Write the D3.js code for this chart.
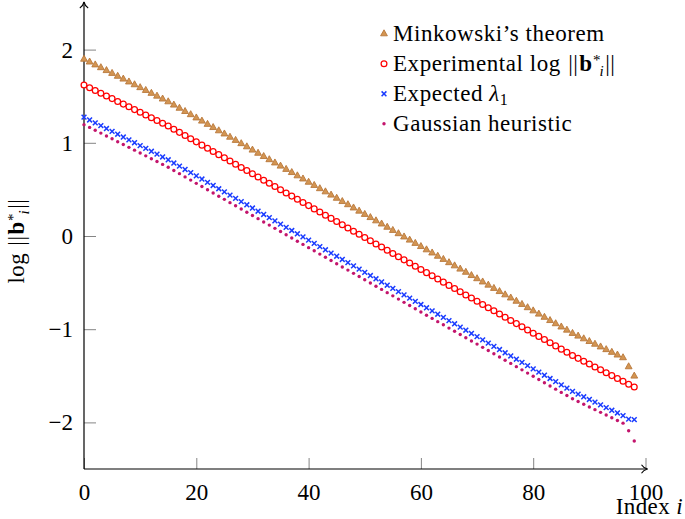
<!DOCTYPE html>
<html><head><meta charset="utf-8">
<script src="https://cdn.jsdelivr.net/npm/d3@7"></script>
<style>body{margin:0;background:#fff}svg{display:block}</style>
</head><body>
<svg id="c" width="685" height="519"></svg>
<script>
// ---- data ----
const indices = d3.range(99);
const minkowski = [1.9,1.87,1.839,1.809,1.778,1.748,1.717,1.687,1.656,1.626,1.595,1.565,1.534,1.504,1.473,1.443,1.408,1.374,1.339,1.305,1.27,1.236,1.201,1.167,1.132,1.098,1.063,1.029,0.994,0.96,0.925,0.891,0.856,0.822,0.787,0.753,0.718,0.684,0.649,0.615,0.58,0.546,0.511,0.477,0.442,0.408,0.373,0.339,0.304,0.27,0.235,0.201,0.166,0.132,0.097,0.063,0.028,-0.007,-0.041,-0.076,-0.11,-0.145,-0.179,-0.214,-0.248,-0.283,-0.317,-0.352,-0.386,-0.421,-0.455,-0.49,-0.524,-0.559,-0.593,-0.628,-0.662,-0.697,-0.731,-0.766,-0.8,-0.835,-0.869,-0.904,-0.938,-0.973,-1.007,-1.042,-1.071,-1.1,-1.129,-1.158,-1.187,-1.216,-1.245,-1.274,-1.303,-1.4,-1.5];
const experimental = [1.62,1.591,1.561,1.532,1.503,1.474,1.444,1.415,1.386,1.356,1.327,1.298,1.268,1.239,1.21,1.181,1.146,1.112,1.078,1.044,1.01,0.975,0.941,0.907,0.873,0.839,0.804,0.77,0.736,0.702,0.668,0.633,0.599,0.565,0.531,0.497,0.462,0.428,0.394,0.36,0.326,0.291,0.257,0.223,0.189,0.155,0.12,0.086,0.052,0.018,-0.017,-0.051,-0.085,-0.119,-0.153,-0.188,-0.222,-0.256,-0.29,-0.324,-0.359,-0.393,-0.427,-0.461,-0.495,-0.53,-0.564,-0.598,-0.632,-0.666,-0.701,-0.735,-0.769,-0.803,-0.837,-0.872,-0.906,-0.94,-0.974,-1.008,-1.043,-1.077,-1.111,-1.145,-1.179,-1.214,-1.248,-1.282,-1.313,-1.344,-1.374,-1.405,-1.436,-1.467,-1.498,-1.528,-1.559,-1.59,-1.621];
const expectedL1 = [1.275,1.245,1.214,1.184,1.153,1.123,1.092,1.062,1.031,1.001,0.97,0.94,0.909,0.879,0.848,0.818,0.783,0.749,0.714,0.68,0.645,0.611,0.576,0.542,0.507,0.473,0.438,0.404,0.369,0.335,0.3,0.266,0.231,0.197,0.162,0.128,0.093,0.059,0.024,-0.01,-0.045,-0.079,-0.114,-0.148,-0.183,-0.217,-0.252,-0.286,-0.321,-0.355,-0.39,-0.424,-0.459,-0.493,-0.528,-0.562,-0.597,-0.632,-0.666,-0.701,-0.735,-0.77,-0.804,-0.839,-0.873,-0.908,-0.942,-0.977,-1.011,-1.046,-1.08,-1.115,-1.149,-1.184,-1.218,-1.253,-1.287,-1.322,-1.356,-1.391,-1.425,-1.46,-1.494,-1.529,-1.563,-1.598,-1.632,-1.667,-1.696,-1.725,-1.754,-1.783,-1.812,-1.841,-1.87,-1.899,-1.928,-1.965,-1.97];
const gaussian = [1.195,1.165,1.134,1.104,1.073,1.043,1.012,0.982,0.951,0.921,0.89,0.86,0.829,0.799,0.768,0.738,0.703,0.669,0.634,0.6,0.565,0.531,0.496,0.462,0.427,0.393,0.358,0.324,0.289,0.255,0.22,0.186,0.151,0.117,0.082,0.048,0.013,-0.021,-0.056,-0.09,-0.125,-0.159,-0.194,-0.228,-0.263,-0.297,-0.332,-0.366,-0.401,-0.435,-0.47,-0.504,-0.539,-0.573,-0.608,-0.642,-0.677,-0.712,-0.746,-0.781,-0.815,-0.85,-0.884,-0.919,-0.953,-0.988,-1.022,-1.057,-1.091,-1.126,-1.16,-1.195,-1.229,-1.264,-1.298,-1.333,-1.367,-1.402,-1.436,-1.471,-1.505,-1.54,-1.574,-1.609,-1.643,-1.678,-1.712,-1.747,-1.776,-1.805,-1.834,-1.863,-1.892,-1.921,-1.95,-1.979,-2.008,-2.09,-2.2];
const xTicks = [0,20,40,60,80,100];
const yTicks = [-2,-1,0,1,2];
const seriesNames = ["minkowski","experimental","expected","gaussian"];

// ---- drawing ----
const FONT = "'Liberation Serif','Times New Roman',serif";
const svg = d3.select("#c");
const x = d3.scaleLinear().domain([0,100]).range([84,645.5]);
const y = d3.scaleLinear().domain([-2.5,2.5]).range([469,3]);

// ticks
const gx = svg.append("g").attr("transform","translate(0,469)")
  .call(d3.axisBottom(x).tickValues(xTicks).tickSize(-11).tickFormat(d3.format("d")));
gx.select(".domain").remove();
gx.selectAll(".tick line").attr("stroke","#777").attr("stroke-width",0.9);
gx.selectAll(".tick text").attr("y",31).attr("dy",null).attr("font-family",FONT).attr("font-size",23).attr("fill","#000");

const gy = svg.append("g").attr("transform","translate(84,0)")
  .call(d3.axisLeft(y).tickValues(yTicks).tickSize(-12).tickPadding(11).tickFormat(d3.format("d")));
gy.select(".domain").remove();
gy.selectAll(".tick line").attr("stroke","#777").attr("stroke-width",0.9);
gy.selectAll(".tick text").attr("dy","0.33em").attr("font-family",FONT).attr("font-size",23).attr("fill","#000");

// axis lines with arrows
svg.append("path").attr("d",`M${x(0)},${y(-2.5)}H${x(100)+2}`).attr("stroke","#000").attr("stroke-width",1.2).attr("fill","none");
svg.append("path").attr("d",`M${x(0)},${y(-2.5)}V${y(2.5)-1}`).attr("stroke","#000").attr("stroke-width",1.2).attr("fill","none");
const tx = x(100)+2, ty = y(-2.5);
svg.append("path").attr("d",`M${tx-6},${ty-4.2} C${tx-4.5},${ty-1.6} ${tx-2},${ty-0.5} ${tx},${ty} C${tx-2},${ty+0.5} ${tx-4.5},${ty+1.6} ${tx-6},${ty+4.2}`)
  .attr("stroke","#000").attr("stroke-width",1.1).attr("fill","none");
const ax = x(0), ay = y(2.5)-1;
svg.append("path").attr("d",`M${ax-4.2},${ay+6} C${ax-1.6},${ay+4.5} ${ax-0.5},${ay+2} ${ax},${ay} C${ax+0.5},${ay+2} ${ax+1.6},${ay+4.5} ${ax+4.2},${ay+6}`)
  .attr("stroke","#000").attr("stroke-width",1.1).attr("fill","none");

// marker painters
const markers = {
  minkowski: (g) => g.append("path").attr("d","M0,-3.7L3.4,2.3L-3.4,2.3Z").attr("fill","#d39552").attr("stroke","#b8773a").attr("stroke-width",0.9),
  experimental: (g) => g.append("circle").attr("r",2.9).attr("fill","#fff").attr("stroke","#ff0000").attr("stroke-width",1.25),
  expected: (g) => g.append("path").attr("d","M-2.4,-2.4L2.4,2.4M-2.4,2.4L2.4,-2.4").attr("stroke","#1a3cff").attr("stroke-width",1.5).attr("fill","none"),
  gaussian: (g) => g.append("circle").attr("r",1.7).attr("fill","#c3146c")
};
const seriesData = {minkowski: minkowski, experimental: experimental, expected: expectedL1, gaussian: gaussian};

seriesNames.forEach(name => {
  const vals = seriesData[name];
  const g = svg.append("g");
  g.selectAll("g.m").data(indices.map(i => ({i, v: vals[i]})).filter(d => d.v !== undefined))
    .enter().append("g").attr("class","m")
    .attr("transform", d => `translate(${x(d.i)},${y(d.v)})`)
    .each(function(){ markers[name](d3.select(this)); });
});

// rich text helper: one <text> with tspans; pieces {t, w, s, size, off, gap, ls}
function rich(parent, x0, y0, pieces, opts={}) {
  const t = parent.append("text").attr("x", x0).attr("y", y0)
    .attr("font-family", FONT).attr("font-size", 23).attr("fill", "#000")
    .style("white-space","pre");
  let curOff = 0, pendingGap = 0;
  pieces.forEach(p => {
    const off = p.off || 0;
    const sp = t.append("tspan")
      .attr("font-size", p.size || 23)
      .attr("font-weight", p.w || "normal")
      .attr("font-style", p.s || "normal")
      .attr("letter-spacing", p.ls !== undefined ? p.ls : (opts.ls || 0))
      .attr("dy", off - curOff)
      .text(p.t);
    curOff = off;
    if (pendingGap) sp.attr("dx", pendingGap);
    pendingGap = p.gap || 0;
  });
  return t;
}

const normPieces = (lead) => [
  ...lead,
  {t:"||", ls:0.5, gap:1},
  {t:"b", w:"bold", gap:0.3},
  {t:"*", size:15, off:-6, ls:0, gap:-1},
  {t:"i", s:"italic", size:15, off:5, gap:1.5, ls:0},
  {t:"||", ls:0.5, off:0}
];

// legend
const legendX = 384, textX = 393;
const legendRows = [
  {name:"minkowski", base:40.5, pieces:[{t:"Minkowski\u2019s theorem"}]},
  {name:"experimental", base:70.7, pieces:normPieces([{t:"Experimental log ", gap:1}])},
  {name:"expected", base:100.8, pieces:[{t:"Expected "},{t:"\u03bb",s:"italic"},{t:"1",size:16,off:4}]},
  {name:"gaussian", base:130.7, pieces:[{t:"Gaussian heuristic"}]}
];
legendRows.forEach(r => {
  const mg = svg.append("g").attr("transform",`translate(${legendX},${r.base-7})`);
  markers[r.name](mg);
  rich(svg, textX, r.base, r.pieces, {ls:0.55});
});

// x axis label (right aligned at the figure edge)
rich(svg, 683, 513.5, [{t:"Index "},{t:"i",s:"italic"}], {ls:0.4}).attr("text-anchor","end");

// y axis label (rotated)
const ylg = svg.append("g");
const ylt = rich(ylg, 0, 0, normPieces([{t:"log ", gap:1}]), {ls:0.4});
const yw = ylt.node().getBBox().width;
ylg.attr("transform",`translate(24,${241 + yw/2}) rotate(-90)`);
</script>
</body></html>
